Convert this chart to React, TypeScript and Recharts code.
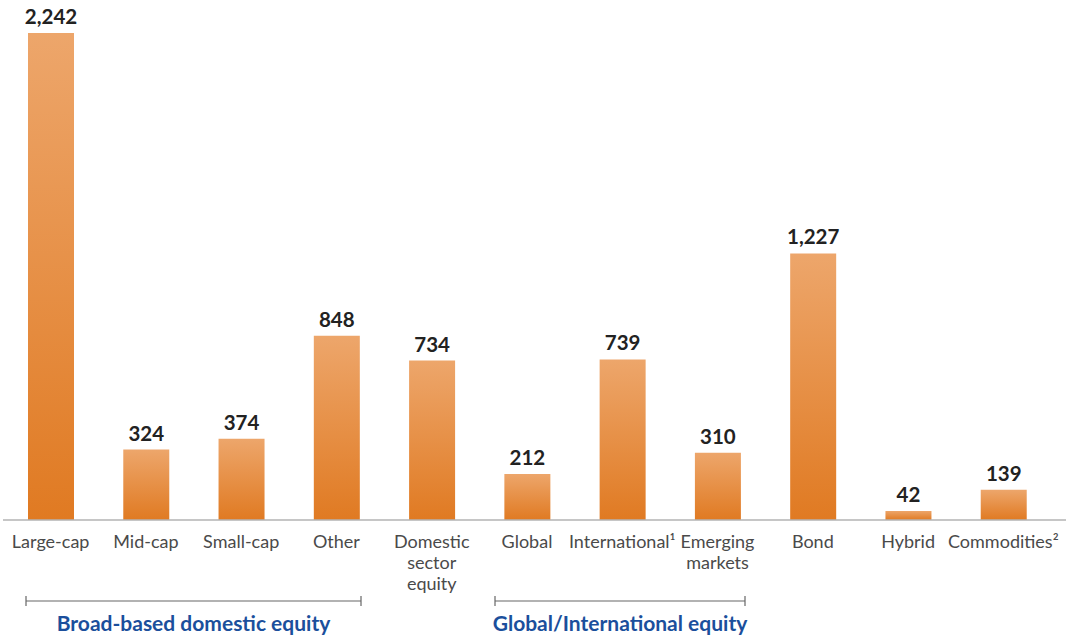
import React from "react"
import { BarChart, Bar, XAxis, YAxis, LabelList } from "recharts"

const categories = [
  "Large-cap",
  "Mid-cap",
  "Small-cap",
  "Other",
  "Domestic\nsector\nequity",
  "Global",
  "International¹",
  "Emerging\nmarkets",
  "Bond",
  "Hybrid",
  "Commodities²",
]
const fundCounts = [2242, 324, 374, 848, 734, 212, 739, 310, 1227, 42, 139]

const groups = [
  { label: "Broad-based domestic equity", from: 26, to: 361 },
  { label: "Global/International equity", from: 495, to: 745 },
]

const data = categories.map((name, i) => ({ name, count: fundCounts[i] }))

const CategoryTick = (props: any) => {
  const { x, y, payload } = props
  const lines = String(payload.value).split("\n")
  return (
    <text x={x} y={y} textAnchor="middle" fill="#4a4a4a" fontSize={18} fontFamily="Lato, 'Noto Sans', sans-serif">
      {lines.map((l, i) => (
        <tspan key={i} x={x} dy={i === 0 ? 28 : 21}>
          {l}
        </tspan>
      ))}
    </text>
  )
}

const fmt = (v: any) => Number(v).toLocaleString("en-US")

export default function App() {
  return (
    <div style={{ position: "absolute", left: 0, top: 0, width: 1074, height: 636, background: "#fff" }}>
      <BarChart
        width={1074}
        height={636}
        data={data}
        margin={{ top: 33, right: 8, bottom: 0, left: 3 }}
        barSize={46}
      >
        <defs>
          <linearGradient id="barFill" x1="0" y1="0" x2="0" y2="1">
            <stop offset="0%" stopColor="#EDA66B" />
            <stop offset="100%" stopColor="#E07A22" />
          </linearGradient>
        </defs>
        <XAxis
          dataKey="name"
          interval={0}
          height={116}
          tickLine={false}
          tickSize={0}
          tickMargin={0}
          axisLine={{ stroke: "#b3b3b3", strokeWidth: 1.5 }}
          tick={<CategoryTick />}
          padding={{ left: 0, right: 15 }}
        />
        <YAxis hide domain={[0, 2242]} />
        <Bar dataKey="count" fill="url(#barFill)" isAnimationActive={false}>
          <LabelList
            dataKey="count"
            position="top"
            offset={9}
            formatter={fmt}
            fill="#222"
            fontSize={20.5}
            fontWeight={700}
            fontFamily="Lato, 'Noto Sans', sans-serif"
          />
        </Bar>
      </BarChart>
      <svg width={1074} height={636} style={{ position: "absolute", left: 0, top: 0, pointerEvents: "none" }}>
        {groups.map((g) => (
          <g key={g.label}>
            <line x1={g.from} x2={g.to} y1={601} y2={601} stroke="#666" strokeWidth={1.2} />
            <line x1={g.from} x2={g.from} y1={596} y2={606} stroke="#666" strokeWidth={1.2} />
            <line x1={g.to} x2={g.to} y1={596} y2={606} stroke="#666" strokeWidth={1.2} />
            <text
              x={(g.from + g.to) / 2}
              y={631}
              textAnchor="middle"
              fill="#1B4F9C"
              fontSize={21}
              fontWeight={700}
              fontFamily="Lato, 'Noto Sans', sans-serif"
            >
              {g.label}
            </text>
          </g>
        ))}
      </svg>
    </div>
  )
}
